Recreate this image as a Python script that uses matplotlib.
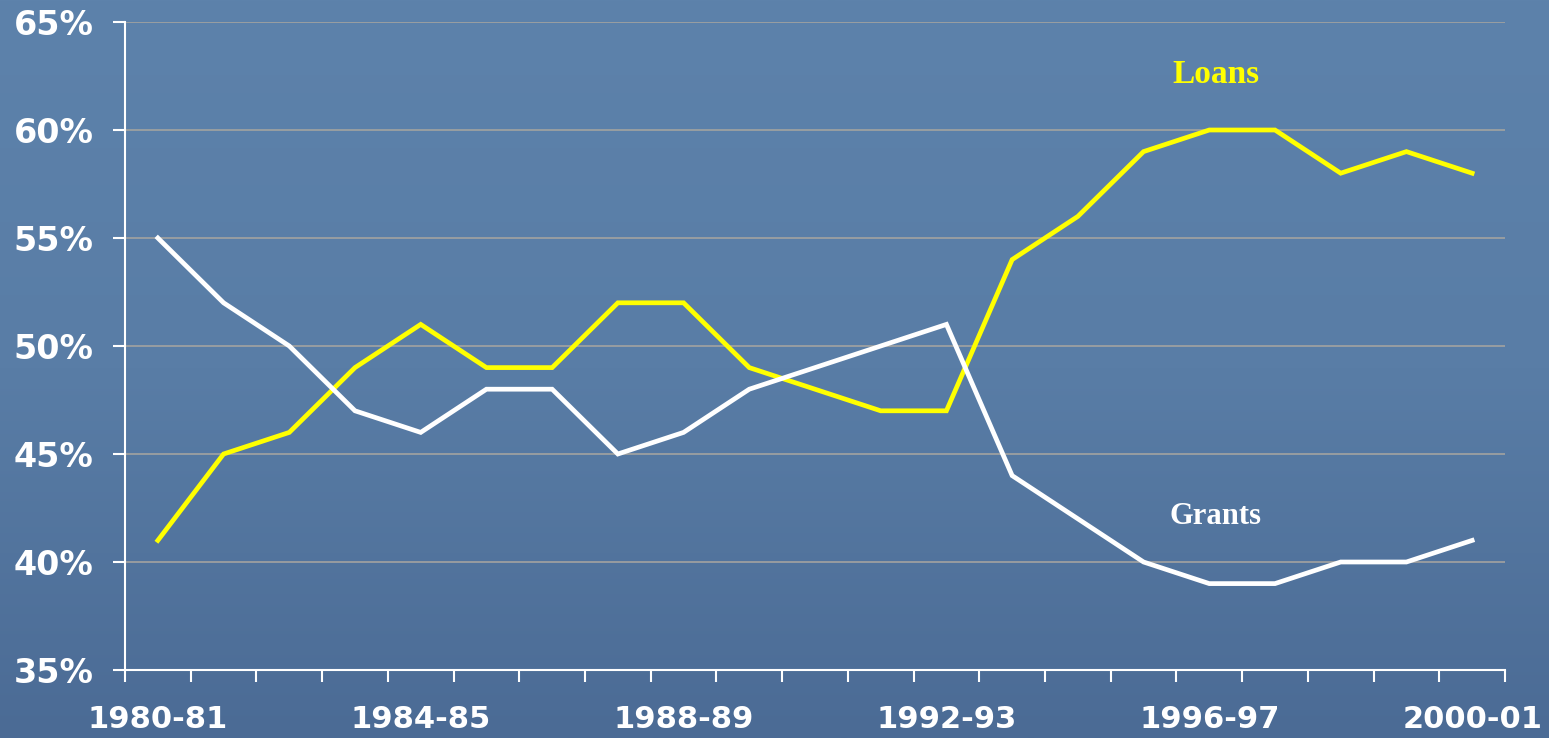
import numpy as np
import matplotlib
matplotlib.use("Agg")
import matplotlib.pyplot as plt
from matplotlib.colors import LinearSegmentedColormap

years = ["1980-81", "1981-82", "1982-83", "1983-84", "1984-85", "1985-86", "1986-87",
         "1987-88", "1988-89", "1989-90", "1990-91", "1991-92", "1992-93", "1993-94",
         "1994-95", "1995-96", "1996-97", "1997-98", "1998-99", "1999-00", "2000-01"]
loans = [41, 45, 46, 49, 51, 49, 49, 52, 52, 49, 48, 47, 47, 54, 56, 59, 60, 60, 58, 59, 58]
grants = [55, 52, 50, 47, 46, 48, 48, 45, 46, 48, 49, 50, 51, 44, 42, 40, 39, 39, 40, 40, 41]
yticks = [35, 40, 45, 50, 55, 60, 65]
shown_labels = ["1980-81", "1984-85", "1988-89", "1992-93", "1996-97", "2000-01"]

W, H = 1549, 738
fig = plt.figure(figsize=(W / 100, H / 100), dpi=100)

# background gradient
bg = fig.add_axes([0, 0, 1, 1], zorder=-10)
cmap = LinearSegmentedColormap.from_list("bgc", ["#5d82ab", "#597da6", "#4b6b95"])
grad = np.linspace(0, 1, 256).reshape(-1, 1)
bg.imshow(grad, aspect="auto", cmap=cmap, extent=[0, 1, 0, 1], origin="upper")
bg.axis("off")

ax = fig.add_axes([125 / W, 1 - 670 / H, (1505 - 125) / W, (670 - 22) / H])
ax.patch.set_alpha(0)

x = np.arange(len(years))
ax.plot(x, loans, color="#ffff00", lw=3.4, solid_joinstyle="miter", zorder=3)
ax.plot(x, grants, color="white", lw=3.4, solid_joinstyle="miter", zorder=3)

ax.set_xlim(-0.5, len(years) - 0.5)
ax.set_ylim(35, 65)

for y in yticks:
    ax.axhline(y, color="#a3a3a0", lw=1.2, zorder=1)

ax.set_yticks(yticks)
ax.set_yticklabels([f"{v}%" for v in yticks], fontsize=24, fontweight="bold",
                   color="white", family="DejaVu Sans")
ax.tick_params(axis="y", direction="out", length=8.5, width=1.5, color="white", pad=14)

ax.set_xticks(np.arange(-0.5, len(years), 1.0))
ax.set_xticklabels([])
ax.tick_params(axis="x", which="major", direction="out", length=8.5, width=1.5, color="white")
lab_pos = [years.index(s) for s in shown_labels]
ax.set_xticks(lab_pos, minor=True)
ax.set_xticklabels(shown_labels, minor=True, fontsize=22, fontweight="bold",
                   color="white", family="DejaVu Sans")
ax.tick_params(axis="x", which="minor", length=0, pad=25)

for s in ["top", "right"]:
    ax.spines[s].set_visible(False)
for s in ["left", "bottom"]:
    ax.spines[s].set_color("white")
    ax.spines[s].set_linewidth(1.5)

ax.text(16.1, 62.55, "Loans", color="#ffff00", fontsize=24, fontweight="bold",
        family="Liberation Serif", ha="center", va="center")
ax.text(16.1, 42.1, "Grants", color="white", fontsize=22, fontweight="bold",
        family="Liberation Serif", ha="center", va="center")

fig.savefig("out.png", dpi=100)
